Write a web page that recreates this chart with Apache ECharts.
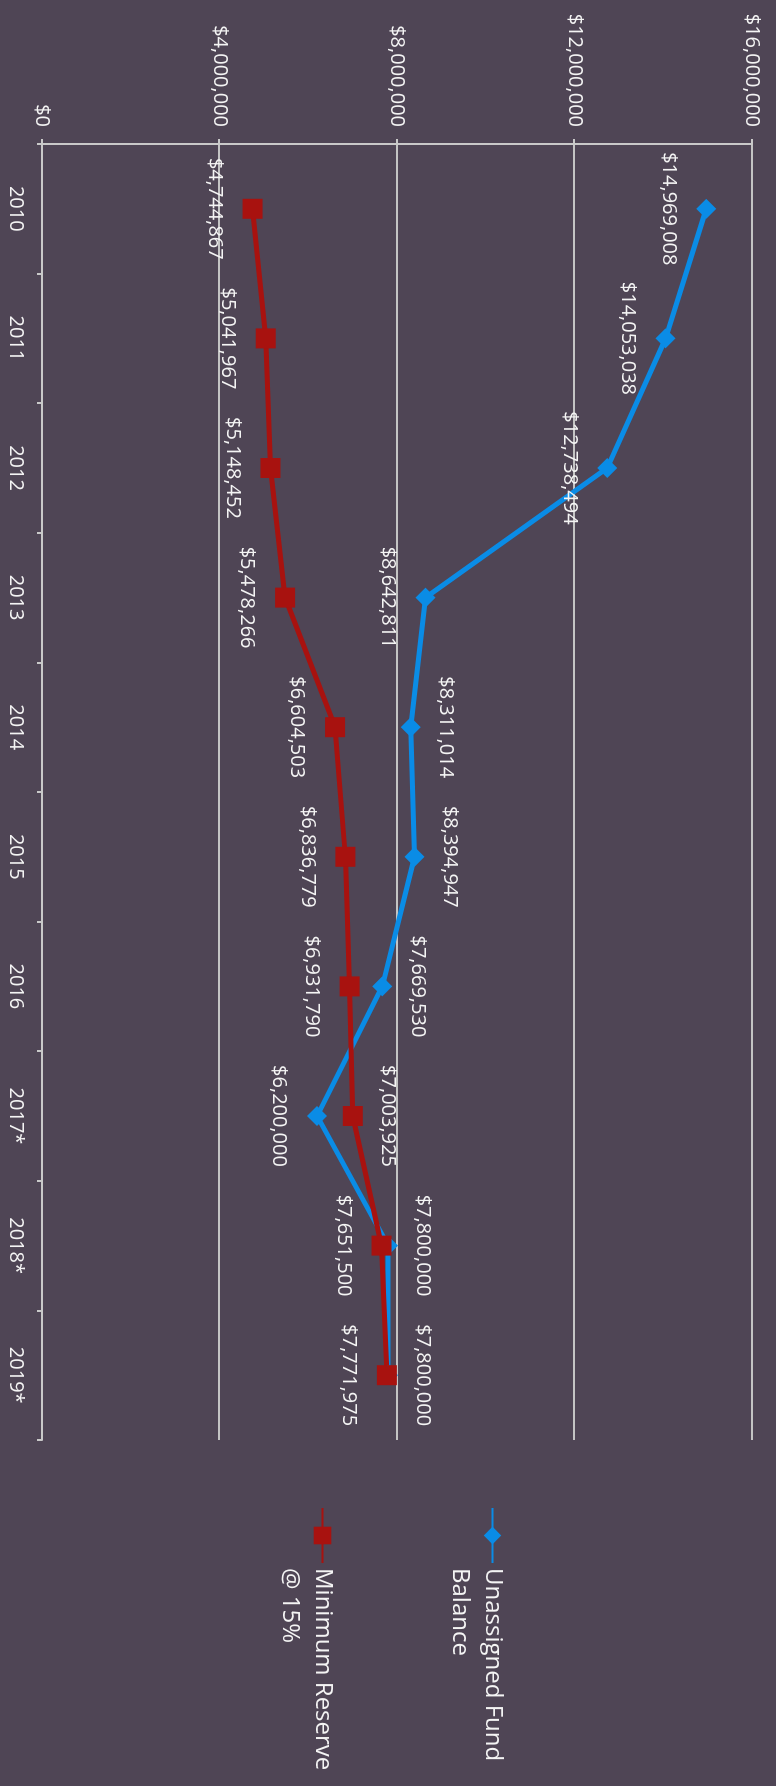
<!DOCTYPE html>
<html>
<head>
<meta charset="utf-8">
<script src="https://cdn.jsdelivr.net/npm/echarts@6/dist/echarts.min.js"></script>
<style>
  html, body { margin: 0; padding: 0; width: 776px; height: 1786px; overflow: hidden; background: #4f4555; }
  /* the chart is laid out landscape and turned a quarter turn, like the printed page */
  #chart { position: absolute; left: 0; top: 0; width: 1786px; height: 776px;
           transform-origin: 0 0; transform: translate(776px, 0) rotate(90deg); }
</style>
</head>
<body>
<div id="chart"></div>
<script>
const years = ['2010', '2011', '2012', '2013', '2014', '2015', '2016', '2017*', '2018*', '2019*'];
const unassigned = [14969008, 14053038, 12738494, 8642811, 8311014, 8394947, 7669530, 6200000, 7800000, 7800000];
const minReserve = [4744867, 5041967, 5148452, 5478266, 6604503, 6836779, 6931790, 7003925, 7651500, 7771975];

// where each data label sits relative to its point
const unassignedLabelPos = ['bottom', 'bottom', 'bottom', 'bottom', 'top', 'top', 'top', 'bottom', 'top', 'top'];
const reserveLabelPos = ['bottom', 'bottom', 'bottom', 'bottom', 'bottom', 'bottom', 'bottom', 'top', 'bottom', 'bottom'];

const money = v => '$' + Number(v).toLocaleString('en-US');
const font = "'Open Sans', sans-serif";
const textColor = '#f4f4f4';

function withLabels(values, positions) {
  return values.map((v, i) => ({
    value: v,
    label: { position: positions[i], distance: positions[i] === 'bottom' ? 18 : 15 }
  }));
}

const chart = echarts.init(document.getElementById('chart'), null, { renderer: 'canvas' });

chart.setOption({
  backgroundColor: '#4f4555',
  animation: false,
  grid: { left: 144, right: 346, top: 24, bottom: 42 },
  legend: {
    orient: 'vertical',
    left: 1507,
    top: 234,
    padding: 0,
    itemGap: 71,
    itemWidth: 55,
    itemHeight: 22,
    // blank first line keeps the icon level with the first line of the name
    formatter: name => ' \n' + name,
    textStyle: { color: textColor, fontFamily: font, fontSize: 24, lineHeight: 33 },
    data: ['Unassigned Fund\nBalance', 'Minimum Reserve\n@ 15%']
  },
  xAxis: {
    type: 'category',
    data: years,
    boundaryGap: true,
    axisLine: { lineStyle: { color: '#c9c9c9', width: 2 } },
    axisTick: { show: true, length: 5, lineStyle: { color: '#c9c9c9', width: 2 } },
    axisLabel: { color: textColor, fontFamily: font, fontSize: 20, margin: 16 }
  },
  yAxis: {
    type: 'value',
    min: 0,
    max: 16000000,
    interval: 4000000,
    axisLine: { show: true, lineStyle: { color: '#c9c9c9', width: 2 } },
    axisTick: { show: true, length: 5, lineStyle: { color: '#c9c9c9', width: 2 } },
    splitLine: { lineStyle: { color: '#c4c4c4', width: 2 } },
    axisLabel: { color: textColor, fontFamily: font, fontSize: 20, margin: 17, formatter: money }
  },
  series: [
    {
      name: 'Unassigned Fund\nBalance',
      type: 'line',
      data: withLabels(unassigned, unassignedLabelPos),
      symbol: 'diamond',
      symbolSize: 20,
      lineStyle: { color: '#0a8ce6', width: 5 },
      itemStyle: { color: '#0a8ce6' },
      label: {
        show: true, color: textColor, fontFamily: font, fontSize: 20,
        formatter: p => money(p.value)
      }
    },
    {
      name: 'Minimum Reserve\n@ 15%',
      type: 'line',
      data: withLabels(minReserve, reserveLabelPos),
      symbol: 'rect',
      symbolSize: 20,
      lineStyle: { color: '#a8120f', width: 5 },
      itemStyle: { color: '#a8120f' },
      label: {
        show: true, color: textColor, fontFamily: font, fontSize: 20,
        formatter: p => money(p.value)
      }
    }
  ]
});
</script>
</body>
</html>
